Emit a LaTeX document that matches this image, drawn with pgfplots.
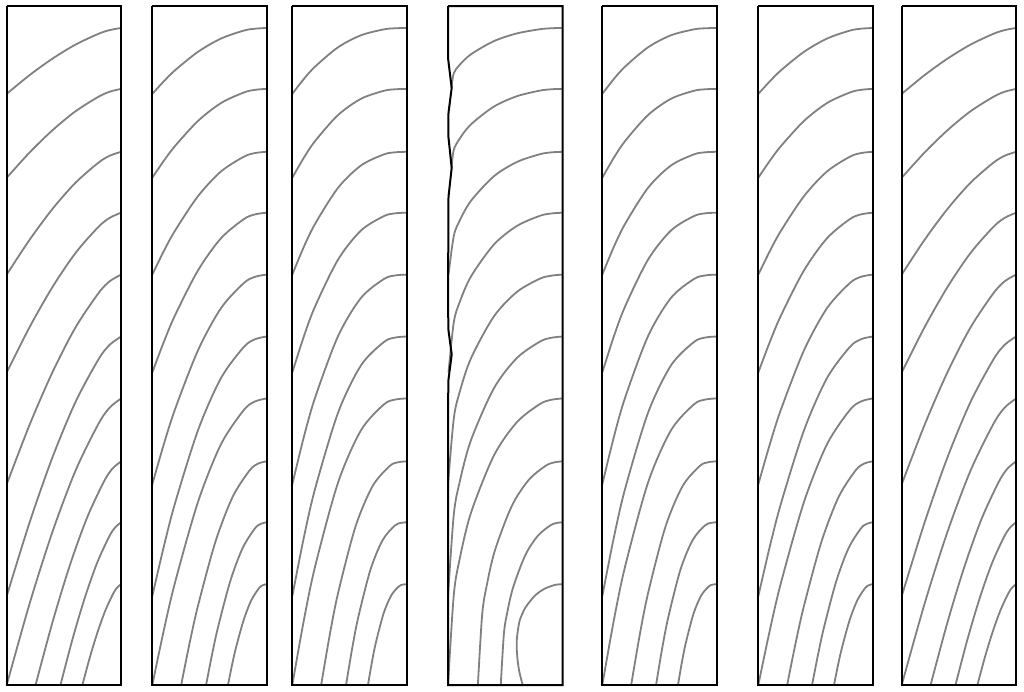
\documentclass[border=0pt]{standalone}
\usepackage{pgfplots}
\pgfplotsset{compat=1.18}
\definecolor{cgray}{RGB}{128,128,128}
\pgfplotsset{
  panel/.style={hide axis, clip=false, scale only axis, width=114.5pt, height=679pt,
    xmin=0, xmax=115, ymin=0, ymax=680, y dir=reverse, anchor=north west},
  cur/.style={cgray, line width=1.8pt, smooth, tension=0.5, no marks},
  frame/.style={black, line width=2pt, no marks},
}
% Panels 1 and 7
\newcommand{\curvesA}{%
\addplot[cur] coordinates {(115,22) (103.5,24.1) (92,27.9) (69,38.7) (46,52.7) (23,69.2) (0,88)};
\addplot[cur] coordinates {(115,83) (103.5,85.8) (92,91.0) (69,105.5) (46,124.4) (23,146.7) (0,172)};
\addplot[cur] coordinates {(115,146) (103.5,149.9) (92,157.0) (69,177.1) (46,203.2) (23,234.1) (0,269)};
\addplot[cur] coordinates {(115,207) (103.5,212.1) (92,221.3) (69,247.5) (46,281.4) (23,321.6) (0,367)};
\addplot[cur] coordinates {(115,269) (103.5,275.6) (92,287.8) (69,322.1) (46,366.7) (23,419.4) (0,479)};
\addplot[cur] coordinates {(115,331) (103.5,339.2) (92,354.2) (69,396.8) (46,451.9) (23,517.2) (0,591)};
\addplot[cur] coordinates {(115,393) (103.5,402.1) (92,418.7) (69,465.6) (46,526.5) (23,598.5) (0,680)};
\addplot[cur] coordinates {(115,456) (106.4,463.1) (97.8,476.0) (80.6,512.7) (63.4,560.2) (46.2,616.4) (29,680)};
\addplot[cur] coordinates {(115,517) (108.9,522.2) (102.8,531.6) (90.6,558.2) (78.4,592.8) (66.2,633.7) (54,680)};
\addplot[cur] coordinates {(115,579) (111.1,582.2) (107.2,588.0) (99.4,604.6) (91.6,626.0) (83.8,651.3) (76,680)};
}
% Panels 2 and 6
\newcommand{\curvesB}{%
\addplot[cur] coordinates {(115,22) (103.5,22.7) (92,24.6) (69,32.6) (46,45.8) (23,64.2) (11.5,75.5) (0,88)};
\addplot[cur] coordinates {(115,83) (103.5,83.9) (92,86.6) (69,97.2) (46,115.0) (23,140.0) (11.5,155.1) (0,172)};
\addplot[cur] coordinates {(115,146) (103.5,147.2) (92,150.9) (69,165.7) (46,190.3) (23,224.7) (11.5,245.6) (0,269)};
\addplot[cur] coordinates {(115,207) (103.5,208.6) (92,213.4) (69,232.6) (46,264.6) (23,309.4) (11.5,336.6) (0,367)};
\addplot[cur] coordinates {(115,269) (103.5,271.1) (92,277.4) (69,302.6) (46,344.6) (23,403.4) (11.5,439.1) (0,479)};
\addplot[cur] coordinates {(115,331) (103.5,333.6) (92,341.4) (69,372.6) (46,424.6) (23,497.4) (11.5,541.6) (0,591)};
\addplot[cur] coordinates {(115,393) (103.5,395.9) (92,404.5) (69,438.9) (46,496.3) (23,576.7) (11.5,625.5) (0,680)};
\addplot[cur] coordinates {(115,456) (106.4,458.2) (97.8,465.0) (80.6,491.8) (63.4,536.6) (46.2,599.4) (37.6,637.4) (29,680)};
\addplot[cur] coordinates {(115,517) (108.9,518.6) (102.8,523.5) (90.6,543.1) (78.4,575.7) (66.2,621.3) (60.1,649.0) (54,680)};
\addplot[cur] coordinates {(115,579) (111.1,580.0) (107.2,583.0) (99.4,595.2) (91.6,615.4) (83.8,643.6) (79.9,660.8) (76,680)};
}
% Panels 3 and 5
\newcommand{\curvesC}{%
\addplot[cur] coordinates {(115,22) (103.5,22.3) (92,23.4) (69,29.3) (46,41.3) (23,60.6) (11.5,73.2) (0,88)};
\addplot[cur] coordinates {(115,83) (103.5,83.4) (92,84.9) (69,92.9) (46,109.1) (23,135.1) (11.5,152.1) (0,172)};
\addplot[cur] coordinates {(115,146) (103.5,146.5) (92,148.6) (69,159.7) (46,182.0) (23,218.0) (11.5,241.4) (0,269)};
\addplot[cur] coordinates {(115,207) (103.5,207.6) (92,210.4) (69,224.8) (46,253.9) (23,300.6) (11.5,331.2) (0,367)};
\addplot[cur] coordinates {(115,269) (103.5,269.8) (92,273.4) (69,292.3) (46,330.5) (23,391.9) (11.5,432.0) (0,479)};
\addplot[cur] coordinates {(115,331) (103.5,332.0) (92,336.5) (69,359.9) (46,407.2) (23,483.1) (11.5,532.8) (0,591)};
\addplot[cur] coordinates {(115,393) (103.5,394.1) (92,399.0) (69,424.9) (46,477.1) (23,560.9) (11.5,615.7) (0,680)};
\addplot[cur] coordinates {(115,456) (106.4,456.9) (97.8,460.7) (80.6,480.9) (63.4,521.6) (46.2,587.0) (37.6,629.8) (29,680)};
\addplot[cur] coordinates {(115,517) (108.9,517.7) (102.8,520.4) (90.6,535.1) (78.4,564.8) (66.2,612.4) (60.1,643.5) (54,680)};
\addplot[cur] coordinates {(115,579) (111.1,579.4) (107.2,581.1) (99.4,590.2) (91.6,608.6) (83.8,638.1) (79.9,657.4) (76,680)};
}
\newcommand{\frameplain}{%
\addplot[frame] coordinates {(0,0) (115,0) (115,680) (0,680) (0,0)};
}
\begin{document}
\begin{tikzpicture}[x=1pt,y=1pt]
\path (0,0) rectangle (1024,-692);
% panel 1
\begin{axis}[panel, at={(6.7pt,-6pt)}]
\curvesA
\frameplain
\end{axis}
% panel 2
\begin{axis}[panel, at={(152.3pt,-6pt)}]
\curvesB
\frameplain
\end{axis}
% panel 3
\begin{axis}[panel, at={(292.3pt,-6pt)}]
\curvesC
\frameplain
\end{axis}
% panel 4
\begin{axis}[panel, at={(448pt,-6pt)}]
\addplot[cur] coordinates {(115,22) (103.5,22.3) (92,23.3) (69,27.5) (46,35.2) (23,48.4) (11.5,59.2) (5.75,67.4) (3.5,82)};
\addplot[cur] coordinates {(115,83) (103.5,83.4) (92,84.8) (69,90.4) (46,100.8) (23,118.6) (11.5,133.2) (5.75,144.2) (3.5,162)};
\addplot[cur] coordinates {(115,146) (103.5,146.6) (92,148.5) (69,156.3) (46,170.6) (23,195.2) (11.5,215.4) (5.75,230.6) (0.5,269)};
\addplot[cur] coordinates {(115,207) (103.5,207.8) (92,210.2) (69,220.4) (46,239) (23,271) (11.5,297.2) (5.75,317.1) (0.5,367)};
\addplot[cur] coordinates {(115,269) (103.5,270.1) (92,273.2) (69,286.5) (46,311) (23,353) (11.5,387.4) (5.75,413.5) (0,479)};
\addplot[cur] coordinates {(115,331) (103.5,332.3) (92,336.3) (69,352.7) (46,383) (23,435) (11.5,477.6) (5.75,509.9) (0,591)};
\addplot[cur] coordinates {(115,393) (103.5,394.4) (92,398.8) (69,417.0) (46,450.4) (23,507.8) (11.5,554.9) (5.75,590.5) (0,680)};
\addplot[cur] coordinates {(115,456) (106.5,457.1) (98,460.5) (81,474.7) (64,500.8) (47,545.6) (38.5,582.3) (34.25,610.1) (30,680)};
\addplot[cur] coordinates {(115,517) (108.8,517.8) (102.6,520.3) (90.2,530.6) (77.8,549.6) (65.4,582.2) (59.2,608.9) (56.1,629.1) (53,680)};
\addplot[cur] coordinates {(115,579) (110.4,579.3) (105.8,580.2) (96.6,583.8) (87.4,590.4) (78.2,601.8) (73.6,611.1) (71.3,618.2) (69,636) (69.6,652) (71.5,666) (75,680)};
\addplot[frame] coordinates {(0,0) (115,0) (115,680) (0,680) (0,400) (0.5,374) (3.7,349) (0.5,325) (0,300) (0.5,191) (3.7,162) (0.3,130) (0.5,107) (3.7,82) (0,52) (0,0)};
\end{axis}
% panel 5
\begin{axis}[panel, at={(602.3pt,-6pt)}]
\curvesC
\frameplain
\end{axis}
% panel 6
\begin{axis}[panel, at={(758.3pt,-6pt)}]
\curvesB
\frameplain
\end{axis}
% panel 7
\begin{axis}[panel, at={(901.7pt,-6pt)}]
\curvesA
\frameplain
\end{axis}
\end{tikzpicture}
\end{document}
